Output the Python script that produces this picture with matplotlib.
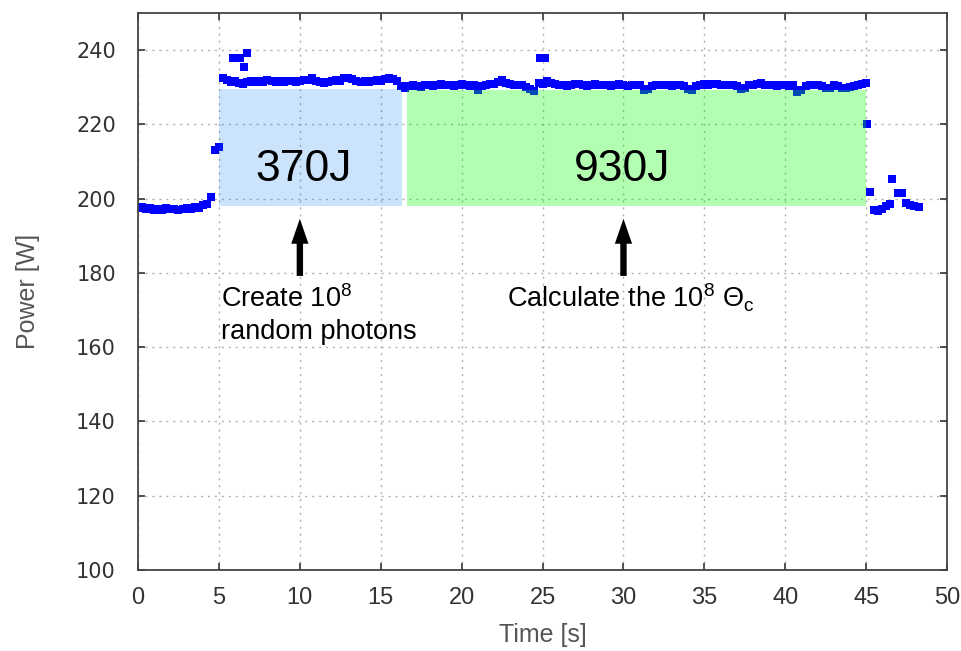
import numpy as np
import matplotlib
matplotlib.use("Agg")
import matplotlib.pyplot as plt

plt.rcParams["mathtext.fontset"] = "custom"
plt.rcParams["mathtext.rm"] = "Liberation Sans"
plt.rcParams["mathtext.it"] = "Liberation Sans:italic"
plt.rcParams["mathtext.default"] = "regular"

# power samples, one every 0.25 s starting at t = 0
sample_step = 0.25
power_idle = [197.4, 197.8, 197.2, 197.5, 196.9, 197.3, 197.0, 197.4, 197.1, 197.3,
              196.9, 197.2, 197.5, 197.3, 197.8, 197.6, 198.2, 198.6, 200.4, 213.2,
              214.0]
power_run = [
    232.6, 231.9, 231.4, 231.6, 231.1, 231.0, 231.5, 231.8,
    231.4, 231.7, 231.5, 231.9, 231.6, 231.3, 231.7, 231.5,
    231.8, 231.6, 231.4, 231.7, 231.9, 232.0, 232.5, 231.8,
    231.3, 231.1, 231.5, 231.6, 231.9, 231.7, 232.4, 232.6,
    232.2, 231.8, 231.5, 231.7, 231.4, 231.6, 231.9, 231.7,
    232.1, 232.5, 232.3, 231.8, 230.4, 229.9, 230.3, 230.6,
    230.3, 230.1, 230.5, 230.7, 230.4, 230.6, 230.9, 230.5,
    230.7, 230.4, 230.6, 230.8, 230.5, 230.3, 230.5, 229.3,
    230.4, 230.6, 230.9, 231.0, 231.4, 232.0, 231.2, 230.8,
    230.6, 230.5, 230.7, 230.2, 229.6, 229.0, 231.2, 230.9,
    231.6, 231.2, 230.8, 230.5, 230.6, 230.4, 230.7, 230.9,
    230.8, 230.6, 230.4, 230.7, 230.9, 230.6, 230.5, 230.7,
    230.4, 230.6, 230.8, 230.5, 230.3, 230.6, 230.7, 230.5,
    229.3, 229.6, 230.4, 230.6, 230.7, 230.5, 230.6, 230.4,
    230.5, 230.7, 230.3, 229.6, 229.4, 230.4, 230.6, 230.8,
    230.7, 230.9, 230.8, 230.6, 230.7, 230.5, 230.6, 230.4,
    229.6, 229.8, 230.5, 230.6, 230.8, 231.1, 230.7, 230.5,
    230.6, 230.4, 230.7, 230.5, 230.3, 230.6, 228.8, 229.2,
    230.4, 230.6, 230.5, 230.7, 230.4, 229.7, 229.9, 230.5,
    230.3, 229.8, 229.9, 230.2, 230.4, 230.7, 231.0, 231.2,
]

# spikes above the run level
time_spike = [5.85, 6.3, 6.55, 6.75, 24.85, 25.15]
power_spike = [237.8, 237.9, 235.5, 239.2, 238.0, 238.0]

# after the job finishes
time_tail = [45.05, 45.25, 45.5, 45.75, 46.0, 46.25, 46.5, 46.6, 46.95, 47.2,
             47.45, 47.7, 47.95, 48.25]
power_tail = [220.2, 201.7, 196.9, 196.8, 197.1, 197.9, 198.6, 205.3, 201.6, 201.5,
              198.8, 198.3, 197.9, 197.8]

# the two phases of the job and their energy
phase_start = [5.0, 16.6]
phase_end = [16.3, 45.0]
phase_base = 198
phase_top = [229.6, 229.2]
phase_energy = ["370J", "930J"]
phase_text = ["Create 10$^8$\nrandom photons", "Calculate the 10$^8$ \u0398$_\\mathrm{c}$"]

power_main = power_idle + power_run
time_main = np.arange(len(power_main)) * sample_step

fig = plt.figure(figsize=(9.62, 6.51), dpi=100)
ax = fig.add_axes([0.1435, 0.1244, 0.841, 0.8556])

dot = dict(ls="none", marker="s", ms=6.3, mew=0, color="#0000ff", zorder=2)
ax.plot(time_main, power_main, **dot)
ax.plot(time_spike, power_spike, **dot)
ax.plot(time_tail, power_tail, **dot)

fill_colors = [(0.0, 0.45, 0.95), (0.0, 1.0, 0.0)]
fill_alpha = [0.2, 0.3]
arrow_x = [10, 30]
energy_x = [10.2, 29.9]
text_x = [5.1, 22.8]
text_y = [162.3, 170.6]  # baseline of the last line
for i in range(2):
    ax.fill_between([phase_start[i], phase_end[i]], phase_base, phase_top[i],
                    color=fill_colors[i], alpha=fill_alpha[i], lw=0, zorder=3)
    ax.text(energy_x[i], 204.8, phase_energy[i], fontsize=32, ha="center",
            va="baseline", family="Liberation Sans", zorder=4)
    ax.annotate("", xy=(arrow_x[i], 194.6), xytext=(arrow_x[i], 179.2),
                arrowprops=dict(arrowstyle="simple,head_length=0.9,head_width=0.62,tail_width=0.23",
                                mutation_scale=20, color="black", lw=0,
                                shrinkA=0, shrinkB=0), zorder=4)
    ax.text(text_x[i], text_y[i], phase_text[i], fontsize=19.5, ha="left",
            va="baseline", family="Liberation Sans", linespacing=1.3, zorder=4)

ax.set_xlim(0, 50)
ax.set_ylim(100, 250)
ax.set_xticks(range(0, 51, 5))
ax.set_yticks(range(100, 241, 20))
ax.grid(True, ls=(0, (1.5, 3.5)), color="#b0b0b0", lw=1)
ax.set_axisbelow(True)

ax.tick_params(direction="in", top=True, right=True, length=5, width=1.2,
               color="#333333", labelcolor="#333333")
ax.tick_params(axis="x", labelsize=17, pad=12)
ax.tick_params(axis="y", labelsize=15, pad=16)
for lbl in ax.get_xticklabels():
    lbl.set_family("Liberation Sans")
for lbl in ax.get_yticklabels():
    lbl.set_family("DejaVu Sans")

for sp in ax.spines.values():
    sp.set_color("#444444")
    sp.set_linewidth(1.3)

ax.set_xlabel("Time [s]", fontsize=18, color="#555555",
              family="Liberation Sans", labelpad=10)
ax.set_ylabel("Power [W]", fontsize=18, color="#555555",
              family="Liberation Sans", labelpad=26)

fig.savefig("out.png", dpi=100)
